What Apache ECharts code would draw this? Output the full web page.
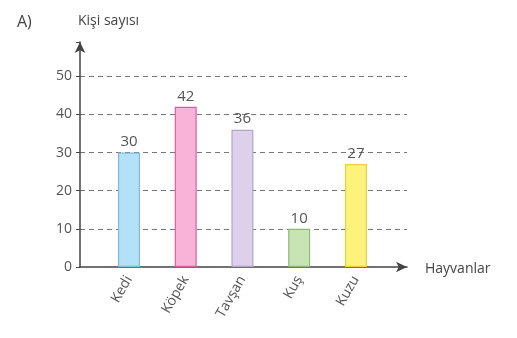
<!DOCTYPE html>
<html>
<head>
<meta charset="utf-8">
<script src="https://cdn.jsdelivr.net/npm/echarts@6/dist/echarts.min.js"></script>
<style>html,body{margin:0;padding:0;background:#fff}#c{width:517px;height:338px}</style>
</head>
<body>
<div id="c"></div>
<script>
const categories = ['Kedi', 'Köpek', 'Tavşan', 'Kuş', 'Kuzu'];
const values = [30, 42, 36, 10, 27];
const yTicks = [0, 10, 20, 30, 40, 50];
const fills = ['#b3e2f8', '#f8b4d8', '#ddd0ea', '#c8e4b4', '#fff27a'];
const borders = ['#7cbcd8', '#d8609c', '#b4a4c8', '#90b878', '#e8d040'];

const chart = echarts.init(document.getElementById('c'), null, {renderer: 'canvas'});
const font = 'Open Sans, Noto Sans, sans-serif';
chart.setOption({
  animation: false,
  backgroundColor: '#fff',
  textStyle: {fontFamily: font},
  title: [
    {text: 'A)', left: 12, top: 9, textStyle: {fontSize: 16, fontWeight: 'normal', color: '#444', fontFamily: font}},
    {text: 'Kişi sayısı', left: 73, top: 9, textStyle: {fontSize: 14, fontWeight: 'normal', color: '#444', fontFamily: font}},
    {text: 'Hayvanlar', left: 420, top: 257, textStyle: {fontSize: 14, fontWeight: 'normal', color: '#444', fontFamily: font}}
  ],
  grid: {left: 80, right: 110, top: 42, bottom: 71},
  xAxis: {
    type: 'value',
    min: -0.863,
    max: 4.9,
    axisLine: {show: true, onZero: false, lineStyle: {color: '#444', width: 1.5}, symbol: ['none', 'arrow'], symbolSize: [8, 11]},
    axisTick: {show: false},
    splitLine: {show: false},
    axisLabel: {
      customValues: [0, 1, 2, 3, 4],
      formatter: v => categories[Math.round(v)],
      rotate: 60,
      fontSize: 14,
      color: '#555',
      margin: 10,
      fontFamily: font
    }
  },
  yAxis: {
    type: 'value',
    min: 0,
    max: 59,
    interval: 10,
    axisLine: {show: true, onZero: false, lineStyle: {color: '#444', width: 1.5}, symbol: ['none', 'arrow'], symbolSize: [8, 11]},
    axisTick: {show: true, length: 4, inside: false, lineStyle: {color: '#444'}},
    axisLabel: {
      fontSize: 14, color: '#555', margin: 8, fontFamily: font,
      formatter: v => yTicks.includes(v) ? String(v) : ''
    },
    splitLine: {show: true, showMinLine: false, showMaxLine: false, lineStyle: {color: '#777', type: [5, 4], width: 1}}
  },
  series: [{
    type: 'bar',
    barWidth: 22,
    data: values.map((v, i) => ({
      value: [i, v],
      itemStyle: {color: fills[i], borderColor: borders[i], borderWidth: 1.2}
    })),
    label: {show: true, position: 'top', distance: 3, fontSize: 15, color: '#555', fontFamily: font,
      formatter: p => p.value[1]}
  }]
});
</script>
</body>
</html>
